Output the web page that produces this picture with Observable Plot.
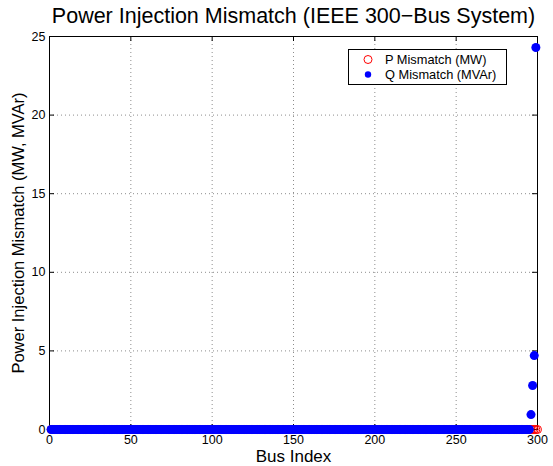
<!DOCTYPE html>
<html>
<head>
<meta charset="utf-8">
<script src="https://cdn.jsdelivr.net/npm/d3@7"></script>
<script src="https://cdn.jsdelivr.net/npm/@observablehq/plot@0.6"></script>
<style>
  body { margin: 0; background: #fff; }
  #wrap { position: relative; width: 553px; height: 466px; font-family: "Liberation Sans", Arial, sans-serif; }
  #legend { position: absolute; left: 348px; top: 49px; }
</style>
</head>
<body>
<div id="wrap"></div>
<script>
const titleText = "Power Injection Mismatch (IEEE 300\u2212Bus System)";
const xLabel = "Bus Index";
const yLabel = "Power Injection Mismatch (MW, MVAr)";
const xTicks = [0, 50, 100, 150, 200, 250, 300];
const yTicks = [0, 5, 10, 15, 20, 25];
const legendLabels = ["P Mismatch (MW)", "Q Mismatch (MVAr)"];

const busIndex = d3.range(1, 301);

// P mismatch (MW): all buses read as zero
const pMismatch = [
  0,0,0,0,0,0,0,0,0,0,0,0,0,0,0,0,0,0,0,0,0,0,0,0,0,0,0,0,0,0,
  0,0,0,0,0,0,0,0,0,0,0,0,0,0,0,0,0,0,0,0,0,0,0,0,0,0,0,0,0,0,
  0,0,0,0,0,0,0,0,0,0,0,0,0,0,0,0,0,0,0,0,0,0,0,0,0,0,0,0,0,0,
  0,0,0,0,0,0,0,0,0,0,0,0,0,0,0,0,0,0,0,0,0,0,0,0,0,0,0,0,0,0,
  0,0,0,0,0,0,0,0,0,0,0,0,0,0,0,0,0,0,0,0,0,0,0,0,0,0,0,0,0,0,
  0,0,0,0,0,0,0,0,0,0,0,0,0,0,0,0,0,0,0,0,0,0,0,0,0,0,0,0,0,0,
  0,0,0,0,0,0,0,0,0,0,0,0,0,0,0,0,0,0,0,0,0,0,0,0,0,0,0,0,0,0,
  0,0,0,0,0,0,0,0,0,0,0,0,0,0,0,0,0,0,0,0,0,0,0,0,0,0,0,0,0,0,
  0,0,0,0,0,0,0,0,0,0,0,0,0,0,0,0,0,0,0,0,0,0,0,0,0,0,0,0,0,0,
  0,0,0,0,0,0,0,0,0,0,0,0,0,0,0,0,0,0,0,0,0,0,0,0,0,0,0,0,0,0
];

// Q mismatch (MVAr): zero except the last few buses
const qMismatch = [
  0,0,0,0,0,0,0,0,0,0,0,0,0,0,0,0,0,0,0,0,0,0,0,0,0,0,0,0,0,0,
  0,0,0,0,0,0,0,0,0,0,0,0,0,0,0,0,0,0,0,0,0,0,0,0,0,0,0,0,0,0,
  0,0,0,0,0,0,0,0,0,0,0,0,0,0,0,0,0,0,0,0,0,0,0,0,0,0,0,0,0,0,
  0,0,0,0,0,0,0,0,0,0,0,0,0,0,0,0,0,0,0,0,0,0,0,0,0,0,0,0,0,0,
  0,0,0,0,0,0,0,0,0,0,0,0,0,0,0,0,0,0,0,0,0,0,0,0,0,0,0,0,0,0,
  0,0,0,0,0,0,0,0,0,0,0,0,0,0,0,0,0,0,0,0,0,0,0,0,0,0,0,0,0,0,
  0,0,0,0,0,0,0,0,0,0,0,0,0,0,0,0,0,0,0,0,0,0,0,0,0,0,0,0,0,0,
  0,0,0,0,0,0,0,0,0,0,0,0,0,0,0,0,0,0,0,0,0,0,0,0,0,0,0,0,0,0,
  0,0,0,0,0,0,0,0,0,0,0,0,0,0,0,0,0,0,0,0,0,0,0,0,0,0,0,0,0,0,
  0,0,0,0,0,0,0,0,0,0,0,0,0,0,0,0,0,0,0,0,0,0,0,0,0,0.95,2.8,4.7,24.3
];

const rows = busIndex.map((b, i) => ({bus: b, p: pMismatch[i], q: qMismatch[i]}));

const W = 553, H = 466, mL = 49, mR = 16, mT = 36, mB = 37;
const fw = W - mL - mR, fh = H - mT - mB;
const font = '"Liberation Sans", Arial, sans-serif';

const chart = Plot.plot({
  width: W, height: H,
  marginLeft: mL, marginRight: mR, marginTop: mT, marginBottom: mB,
  style: {fontFamily: font, fontSize: "12.5px", color: "#000", background: "#fff", overflow: "visible"},
  x: {domain: [0, 300]},
  y: {domain: [0, 25]},
  marks: [
    Plot.gridX(xTicks.slice(1, -1), {stroke: "#000", strokeOpacity: 0.45, strokeDasharray: "1,3"}),
    Plot.gridY(yTicks.slice(1, -1), {stroke: "#000", strokeOpacity: 0.45, strokeDasharray: "1,3"}),
    Plot.tickX(xTicks, {x: d => d, insetTop: fh - 5, stroke: "#000"}),
    Plot.tickX(xTicks, {x: d => d, insetBottom: fh - 5, stroke: "#000"}),
    Plot.tickY(yTicks, {y: d => d, insetRight: fw - 5, stroke: "#000"}),
    Plot.tickY(yTicks, {y: d => d, insetLeft: fw - 5, stroke: "#000"}),
    Plot.frame({stroke: "#000"}),
    Plot.axisX(xTicks, {tickSize: 0, tickPadding: 6, label: null}),
    Plot.axisY(yTicks, {tickSize: 0, tickPadding: 4, label: null}),
    Plot.dot(rows, {x: "bus", y: "p", r: 4, stroke: "#ff0000", fill: "none", strokeWidth: 1}),
    Plot.dot(rows, {x: "bus", y: "q", r: 4.5, fill: "#0000ff", stroke: "none"}),
    Plot.text([titleText], {frameAnchor: "top", textAnchor: "middle", dy: -20.5, fontSize: 21.5, lineAnchor: "middle", fill: "#000"}),
    Plot.text([xLabel], {frameAnchor: "bottom", textAnchor: "middle", dy: 27, fontSize: 17, lineAnchor: "middle", fill: "#000"}),
    Plot.text([yLabel], {frameAnchor: "left", textAnchor: "middle", dx: -31, rotate: -90, fontSize: 16.5, lineAnchor: "middle", fill: "#000"})
  ]
});

const wrap = document.getElementById("wrap");
wrap.appendChild(chart);

// Legend box
const lw = 159, lh = 36;
const leg = d3.create("svg")
  .attr("id", "legend")
  .attr("width", lw).attr("height", lh)
  .style("font-family", font);
leg.append("rect").attr("x", 0.5).attr("y", 0.5).attr("width", lw - 1).attr("height", lh - 1)
  .attr("fill", "#fff").attr("stroke", "#000");
leg.append("circle").attr("cx", 20).attr("cy", 10.5).attr("r", 4)
  .attr("fill", "none").attr("stroke", "#ff0000");
leg.append("circle").attr("cx", 20).attr("cy", 25.5).attr("r", 3.2)
  .attr("fill", "#0000ff");
leg.append("text").attr("x", 37).attr("y", 15).attr("font-size", 12.8).text(legendLabels[0]);
leg.append("text").attr("x", 37).attr("y", 30).attr("font-size", 12.8).text(legendLabels[1]);
wrap.appendChild(leg.node());
</script>
</body>
</html>
